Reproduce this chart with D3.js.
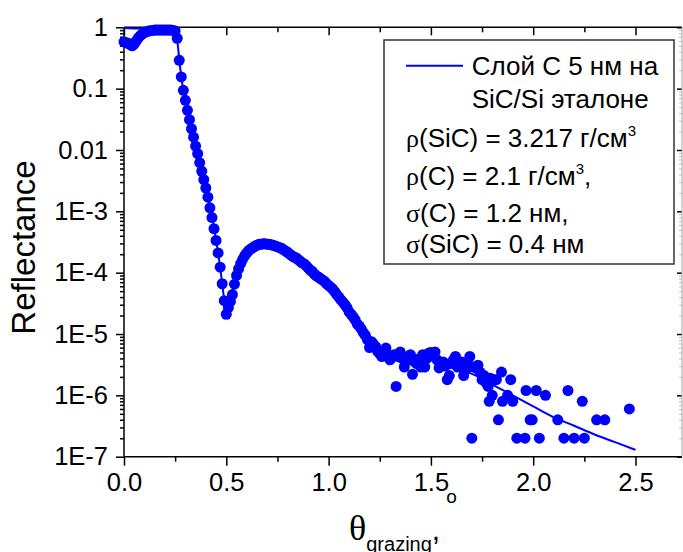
<!DOCTYPE html>
<html>
<head>
<meta charset="utf-8">
<script src="https://cdn.jsdelivr.net/npm/d3@7"></script>
<style>
  body { margin: 0; background: #fff; }
  svg { display: block; }
  text { font-family: "Liberation Sans", Arial, sans-serif; fill: #000; }
</style>
</head>
<body>
<div id="main-vis"></div>
<script>
// measured points (grazing angle, deg / reflectance)
var measAngle = [
  0.00, 0.01, 0.02, 0.03, 0.04, 0.05, 0.06, 0.07, 0.08, 0.09,
  0.10, 0.11, 0.12, 0.13, 0.14, 0.15, 0.16, 0.17, 0.18, 0.19,
  0.20, 0.21, 0.22, 0.23, 0.24, 0.25, 0.26, 0.27, 0.28, 0.29,
  0.30, 0.31, 0.32, 0.33, 0.34, 0.35, 0.36, 0.37, 0.38, 0.39,
  0.40, 0.41, 0.42, 0.43, 0.44, 0.45, 0.46, 0.47, 0.48, 0.49,
  0.50, 0.51, 0.52, 0.53, 0.54, 0.55, 0.56, 0.57, 0.58, 0.59,
  0.60, 0.61, 0.62, 0.63, 0.64, 0.65, 0.66, 0.67, 0.68, 0.69,
  0.70, 0.71, 0.72, 0.73, 0.74, 0.75, 0.76, 0.77, 0.78, 0.79,
  0.80, 0.81, 0.82, 0.83, 0.84, 0.85, 0.86, 0.87, 0.88, 0.89,
  0.90, 0.91, 0.92, 0.93, 0.94, 0.95, 0.96, 0.97, 0.98, 0.99,
  1.00, 1.01, 1.02, 1.03, 1.04, 1.05, 1.06, 1.07, 1.08, 1.09,
  1.10, 1.11, 1.12, 1.13, 1.14, 1.15, 1.16, 1.17, 1.18, 1.19,
  1.20, 1.21, 1.22, 1.23, 1.24, 1.25, 1.26, 1.27, 1.28, 1.29,
  1.30, 1.31, 1.32, 1.33, 1.34, 1.35, 1.36, 1.37, 1.38, 1.39,
  1.40, 1.41, 1.42, 1.43, 1.44, 1.45, 1.46, 1.47, 1.48, 1.49,
  1.50, 1.51, 1.52, 1.53, 1.54, 1.55, 1.56, 1.57, 1.58, 1.59,
  1.60, 1.61, 1.62, 1.63, 1.64, 1.65, 1.66, 1.67, 1.68, 1.69,
  1.70, 1.71, 1.72, 1.73, 1.74, 1.75, 1.76, 1.77, 1.78, 1.785,
  1.79, 1.80, 1.81, 1.82, 1.83, 1.845, 1.85, 1.875, 1.89, 1.90,
  1.92, 1.96, 1.965, 1.985, 1.995, 2.015, 2.03, 2.06, 2.12, 2.15,
  2.17, 2.20, 2.24, 2.25, 2.31, 2.35, 2.47
];
var measRefl = [
  0.58, 0.56, 0.55, 0.52, 0.50, 0.53, 0.60, 0.67, 0.73, 0.78,
  0.82, 0.85, 0.87, 0.88, 0.89, 0.90, 0.90, 0.90, 0.90, 0.90,
  0.90, 0.90, 0.90, 0.90, 0.89, 0.87, 0.66, 0.29, 0.155, 0.094,
  0.0645, 0.0443, 0.0312, 0.0222, 0.0162, 0.0116, 0.0087, 0.0062, 0.0045, 0.0033,
  0.0024, 0.0017, 0.00114, 7.9e-4, 5.2e-4, 3.35e-4, 2.1e-4, 1.23e-4, 6.6e-5, 3.5e-5,
  2.1e-5, 2.7e-5, 3.4e-5, 4.4e-5, 6.5e-5, 9.0e-5, 1.15e-4, 1.4e-4, 1.65e-4, 1.9e-4,
  2.1e-4, 2.3e-4, 2.45e-4, 2.55e-4, 2.7e-4, 2.8e-4, 2.9e-4, 2.9e-4, 2.95e-4, 2.95e-4,
  2.9e-4, 2.9e-4, 2.85e-4, 2.8e-4, 2.7e-4, 2.65e-4, 2.55e-4, 2.5e-4, 2.35e-4, 2.25e-4,
  2.15e-4, 2.0e-4, 1.9e-4, 1.8e-4, 1.75e-4, 1.65e-4, 1.55e-4, 1.45e-4, 1.4e-4, 1.3e-4,
  1.2e-4, 1.1e-4, 1.05e-4, 9.5e-5, 8.9e-5, 8.5e-5, 8.0e-5, 7.6e-5, 7.2e-5, 6.6e-5,
  6.2e-5, 5.8e-5, 5.4e-5, 4.9e-5, 4.4e-5, 4.0e-5, 3.6e-5, 3.3e-5, 3.0e-5, 2.7e-5,
  2.3e-5, 2.1e-5, 1.9e-5, 1.7e-5, 1.45e-5, 1.35e-5, 1.2e-5, 1.05e-5, 9.5e-6, 8.0e-6,
  6.0e-6, 7.5e-6, 6.8e-6, 6.2e-6, 5.2e-6, 4.8e-6, 4.3e-6, 5.0e-6, 5.9e-6, 4.5e-6,
  3.8e-6, 4.2e-6, 4.6e-6, 1.4e-6, 4.3e-6, 5.1e-6, 4.0e-6, 2.9e-6, 3.6e-6, 4.2e-6,
  4.6e-6, 2.2e-6, 3.5e-6, 3.3e-6, 3.9e-6, 2.9e-6, 4.6e-6, 2.9e-6, 4.0e-6, 4.9e-6,
  5.0e-6, 4.4e-6, 5.1e-6, 3.8e-6, 2.8e-6, 3.2e-6, 3.5e-6, 3.0e-6, 1.8e-6, 2.1e-6,
  3.3e-6, 3.8e-6, 4.3e-6, 2.9e-6, 3.1e-6, 3.5e-6, 2.1e-6, 2.6e-6, 3.3e-6, 4.3e-6,
  2e-7, 2.9e-6, 2.8e-6, 3.1e-6, 2.4e-6, 1.8e-6, 2.1e-6, 1.6e-6, 1.4e-6, 8e-7,
  1.9e-6, 1.0e-6, 1.8e-6, 1.8e-6, 4e-7, 2.4e-6, 8e-7, 1.0e-6, 1.8e-6, 8e-7,
  2e-7, 2e-7, 1.2e-6, 4e-7, 4e-7, 1.2e-6, 2e-7, 1.0e-6, 4e-7, 2e-7,
  1.2e-6, 2e-7, 8e-7, 2e-7, 4e-7, 4e-7, 6e-7
];

// model curve
var fitAngle = [
  0.00, 0.05, 0.10, 0.15, 0.20, 0.23, 0.245, 0.255, 0.26, 0.27,
  0.28, 0.29, 0.30, 0.32, 0.35, 0.38, 0.41, 0.44, 0.46, 0.48,
  0.49, 0.50, 0.505, 0.515, 0.53, 0.55, 0.58, 0.62, 0.66, 0.70,
  0.75, 0.80, 0.85, 0.90, 0.95, 1.00, 1.05, 1.10, 1.15, 1.20,
  1.25, 1.30, 1.35, 1.40, 1.45, 1.50, 1.55, 1.60, 1.65, 1.72,
  1.80, 1.90, 2.00, 2.10, 2.20, 2.30, 2.40, 2.50
];
var fitRefl = [
  0.97, 0.96, 0.95, 0.94, 0.93, 0.91, 0.87, 0.75, 0.62, 0.30,
  0.155, 0.094, 0.064, 0.031, 0.0116, 0.0045, 0.0017, 5.2e-4, 2.1e-4, 6.6e-5,
  3.6e-5, 2.3e-5, 2.2e-5, 2.8e-5, 4.4e-5, 9.0e-5, 1.65e-4, 2.45e-4, 2.9e-4, 2.92e-4,
  2.65e-4, 2.15e-4, 1.65e-4, 1.2e-4, 8.5e-5, 6.2e-5, 4.0e-5, 2.3e-5, 1.35e-5, 8.0e-6,
  5.5e-6, 4.5e-6, 4.2e-6, 4.0e-6, 3.9e-6, 3.8e-6, 3.5e-6, 3.1e-6, 2.6e-6, 2.1e-6,
  1.5e-6, 1.0e-6, 6.6e-7, 4.4e-7, 3.2e-7, 2.3e-7, 1.73e-7, 1.29e-7
];

var xTicks = [0, 0.5, 1.0, 1.5, 2.0, 2.5];
var yTicks = [1, 0.1, 0.01, 1e-3, 1e-4, 1e-5, 1e-6, 1e-7];
var yTickLabels = ["1", "0.1", "0.01", "1E-3", "1E-4", "1E-5", "1E-6", "1E-7"];

var legendTitle = ["Слой С 5 нм на", "SiC/Si эталоне"];
var legendParams = [
  [["ρ", "g"], ["(SiC) = 3.217 г/см"], ["3", "sup"]],
  [["ρ", "g"], ["(C) = 2.1 г/см"], ["3", "sup"], [","]],
  [["σ", "g"], ["(C) = 1.2 нм,"]],
  [["σ", "g"], ["(SiC) = 0.4 нм"]]
];

var W = 683, H = 552;
var margin = { top: 27.3, left: 124, right: 1, bottom: 95.3 };
var width = W - margin.left - margin.right;
var height = H - margin.top - margin.bottom;

var x = d3.scaleLinear().domain([0, width / 204.6]).range([0, width]);
var y = d3.scaleLog().domain([1e-7, 1]).range([height, 0]);

var svg = d3.select("#main-vis").append("svg")
  .attr("width", W)
  .attr("height", H);

var g = svg.append("g")
  .attr("transform", "translate(" + margin.left + "," + margin.top + ")");

// minor tick positions
var xMinor = d3.range(0.25, 2.75, 0.5);
var yMinor = [];
for (var e = -7; e < 0; e++) {
  for (var k = 2; k <= 9; k++) yMinor.push(k * Math.pow(10, e));
}

function styleAxis(sel) {
  sel.select(".domain").remove();
  sel.selectAll("line").attr("stroke", "#000").attr("stroke-width", 1.5);
  sel.selectAll("text").attr("font-size", 25.5).attr("fill", "#000")
    .attr("font-family", '"Liberation Sans", Arial, sans-serif');
}

// bottom
g.append("g").attr("transform", "translate(0," + height + ")")
  .call(d3.axisBottom(x).tickValues(xTicks).tickFormat(d3.format(".1f")).tickSize(9).tickPadding(7))
  .call(styleAxis);
g.append("g").attr("transform", "translate(0," + height + ")")
  .call(d3.axisBottom(x).tickValues(xMinor).tickFormat("").tickSize(5))
  .call(styleAxis);
// top
g.append("g")
  .call(d3.axisTop(x).tickValues(xTicks).tickFormat("").tickSize(-8))
  .call(styleAxis);
g.append("g")
  .call(d3.axisTop(x).tickValues(xMinor).tickFormat("").tickSize(-5))
  .call(styleAxis);
// left
g.append("g")
  .call(d3.axisLeft(y).tickValues(yTicks).tickFormat(function (d, i) { return yTickLabels[i]; }).tickSize(8).tickPadding(8))
  .call(styleAxis);
g.append("g")
  .call(d3.axisLeft(y).tickValues(yMinor).tickFormat("").tickSize(4))
  .call(styleAxis);
// right
g.append("g").attr("transform", "translate(" + width + ",0)")
  .call(d3.axisRight(y).tickValues(yTicks).tickFormat("").tickSize(-5))
  .call(styleAxis);
g.append("g").attr("transform", "translate(" + width + ",0)")
  .call(d3.axisRight(y).tickValues(yMinor).tickFormat("").tickSize(-3))
  .call(styleAxis)
  .selectAll("line").attr("stroke", "#bbb").attr("stroke-width", 1);

// frame
g.append("line").attr("x1", 0).attr("x2", 0).attr("y1", 0).attr("y2", height)
  .attr("stroke", "#000").attr("stroke-width", 1.5);
g.append("line").attr("x1", 0).attr("x2", width).attr("y1", height).attr("y2", height)
  .attr("stroke", "#000").attr("stroke-width", 1.5);
g.append("line").attr("x1", 0).attr("x2", width).attr("y1", 0).attr("y2", 0)
  .attr("stroke", "#000").attr("stroke-width", 1.5);
g.append("line").attr("x1", width).attr("x2", width).attr("y1", 0).attr("y2", height)
  .attr("stroke", "#aaa").attr("stroke-width", 1);

// data
var meas = measAngle.map(function (a, i) { return { a: a, r: measRefl[i] }; });
var fit = fitAngle.map(function (a, i) { return { a: a, r: fitRefl[i] }; });

g.append("path")
  .datum(fit)
  .attr("fill", "none")
  .attr("stroke", "#0000ff")
  .attr("stroke-width", 2)
  .attr("d", d3.line()
    .x(function (d) { return x(d.a); })
    .y(function (d) { return y(d.r); })
    .curve(d3.curveMonotoneX));

g.selectAll("circle.pt")
  .data(meas)
  .enter().append("circle")
  .attr("class", "pt")
  .attr("r", 5.5)
  .attr("cx", function (d) { return x(d.a); })
  .attr("cy", function (d) { return y(d.r); })
  .attr("fill", "#0000ff");

// legend
var lg = svg.append("g");
lg.append("rect")
  .attr("x", 384).attr("y", 40).attr("width", 290).attr("height", 224)
  .attr("fill", "#fff").attr("stroke", "#333").attr("stroke-width", 1.5);
lg.append("line")
  .attr("x1", 406).attr("x2", 463).attr("y1", 65.7).attr("y2", 65.7)
  .attr("stroke", "#0000ff").attr("stroke-width", 2);
legendTitle.forEach(function (t, i) {
  lg.append("text").attr("x", 471.7).attr("y", 75 + i * 33).attr("font-size", 26).text(t);
});
var paramBase = [147, 185, 222, 253];
legendParams.forEach(function (segs, i) {
  var t = lg.append("text").attr("x", 406).attr("y", paramBase[i]).attr("font-size", 26);
  segs.forEach(function (s) {
    var ts = t.append("tspan").text(s[0]);
    if (s[1] === "g") ts.attr("font-family", '"Liberation Serif", "Times New Roman", serif');
    if (s[1] === "sup") ts.attr("font-size", 15).attr("dy", -11);
    else if (ts.node().previousSibling && d3.select(ts.node().previousSibling).attr("dy")) ts.attr("dy", 11);
  });
});

// axis titles
svg.append("text")
  .attr("transform", "translate(35,247.5) rotate(-90)")
  .attr("text-anchor", "middle")
  .attr("font-size", 33)
  .text("Reflectance");

var xt = svg.append("text").attr("x", 349).attr("y", 540);
xt.append("tspan").attr("font-family", '"Liberation Serif", "Times New Roman", serif').attr("font-size", 36).text("θ");
xt.append("tspan").attr("font-size", 20).attr("dy", 11).text("grazing");
xt.append("tspan").attr("font-size", 30).attr("dy", -11).text(",");
xt.append("tspan").attr("font-size", 19).attr("dx", 6).attr("dy", -37).text("o");
</script>
</body>
</html>
